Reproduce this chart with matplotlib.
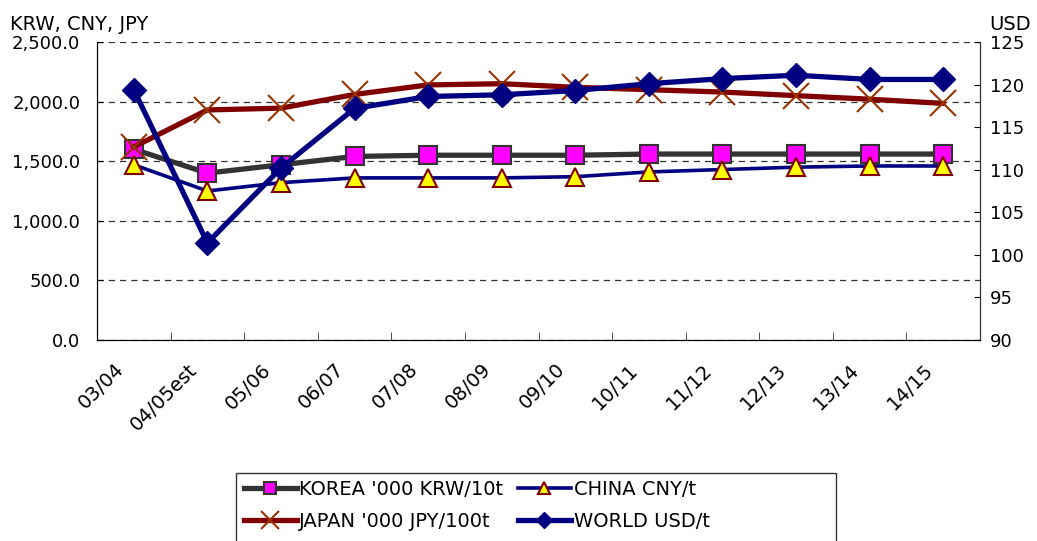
import numpy as np
import matplotlib.pyplot as plt
from matplotlib.patches import Rectangle
from matplotlib.transforms import ScaledTranslation

plt.rcParams['font.family'] = ['DejaVu Sans']

# data
years = ['03/04', '04/05est', '05/06', '06/07', '07/08', '08/09',
         '09/10', '10/11', '11/12', '12/13', '13/14', '14/15']
korea = [1600, 1400, 1470, 1540, 1550, 1550, 1550, 1560, 1560, 1560, 1560, 1560]
china = [1470, 1250, 1320, 1360, 1360, 1360, 1370, 1410, 1430, 1450, 1460, 1460]
japan = [1620, 1930, 1945, 2060, 2140, 2150, 2120, 2100, 2080, 2050, 2020, 1985]
world = [119.4, 101.4, 110.2, 117.2, 118.6, 118.8, 119.3, 120.1, 120.7, 121.1, 120.6, 120.6]

fig = plt.figure(figsize=(10.37, 5.41), dpi=100)
ax = fig.add_axes([97/1037, 1 - 340/541, 883/1037, 298/541])
ax2 = ax.twinx()

x = np.arange(len(years))

l1, = ax.plot(x, korea, color='#333333', lw=3.8, marker='s', ms=13,
              mfc='#ff00ff', mec='#333333', mew=1.5, zorder=3)
l2, = ax.plot(x, china, color='#000080', lw=2.6, marker='^', ms=13,
              mfc='#ffff00', mec='#800000', mew=1.5, zorder=4)
l3, = ax.plot(x, japan, color='#800000', lw=3.8, marker='x', ms=19,
              mec='#993300', mew=1.5, zorder=5)
l4, = ax2.plot(x, world, color='#000080', lw=3.8, marker='D', ms=12,
               mfc='#000080', mec='#000080', zorder=6)

ax.set_xlim(-0.5, len(years) - 0.5)
ax.set_ylim(0, 2500)
ax2.set_ylim(90, 125)

ax.set_yticks(np.arange(0, 2501, 500))
ax.set_yticklabels([f'{v:,.1f}' for v in np.arange(0, 2501, 500)])
ax2.set_yticks(np.arange(90, 126, 5))

ax.set_xticks(x)
ax.set_xticklabels(years, rotation=45, ha='right', va='top', rotation_mode='anchor')
ax.set_xticks(np.arange(-0.5, len(years)), minor=True)
ax.tick_params(axis='x', which='major', length=0, pad=10, labelsize=14)
ax.tick_params(axis='x', which='minor', direction='in', length=6, color='#333333')
ax.tick_params(axis='y', direction='in', length=4, labelsize=13, pad=12)
ax2.tick_params(axis='y', direction='in', length=4, labelsize=13, pad=7)

# nudge the slanted category labels left and down, as in the reference
shift = ScaledTranslation(-20/100, -6/100, fig.dpi_scale_trans)
for tick in ax.xaxis.get_major_ticks():
    tick.label1.set_transform(tick.label1.get_transform() + shift)

ax.grid(axis='y', color='#333333', ls=(0, (5, 4)), lw=0.9)
ax.spines['top'].set_visible(False)
ax2.spines['top'].set_visible(False)
for s in ['left', 'bottom']:
    ax.spines[s].set_color('#333333')
ax2.spines['right'].set_color('#333333')

ax.set_zorder(ax2.get_zorder() - 1)
ax.patch.set_visible(False)

fig.text(10/1037, 1 - 30/541, 'KRW, CNY, JPY', fontsize=14, ha='left', va='baseline')
fig.text(1031/1037, 1 - 30/541, 'USD', fontsize=14, ha='right', va='baseline')

# legend, frame drawn by hand so it can be wider than its entries
fig.add_artist(Rectangle((236/1037, -0.05), 600/1037, 1 - 473/541 + 0.05,
                         transform=fig.transFigure, fill=False,
                         edgecolor='#333333', lw=1))
leg = fig.legend([l1, l3, l2, l4],
                 ["KOREA '000 KRW/10t", "JAPAN '000 JPY/100t", 'CHINA CNY/t', 'WORLD USD/t'],
                 ncol=2, loc='upper left', bbox_to_anchor=(244/1037, 1 - 480/541),
                 fontsize=14, frameon=False, borderaxespad=0, borderpad=0,
                 handlelength=2.7, handletextpad=0.15, columnspacing=0.75,
                 labelspacing=0.65, markerscale=0.65)

fig.savefig('out.png', dpi=100)
